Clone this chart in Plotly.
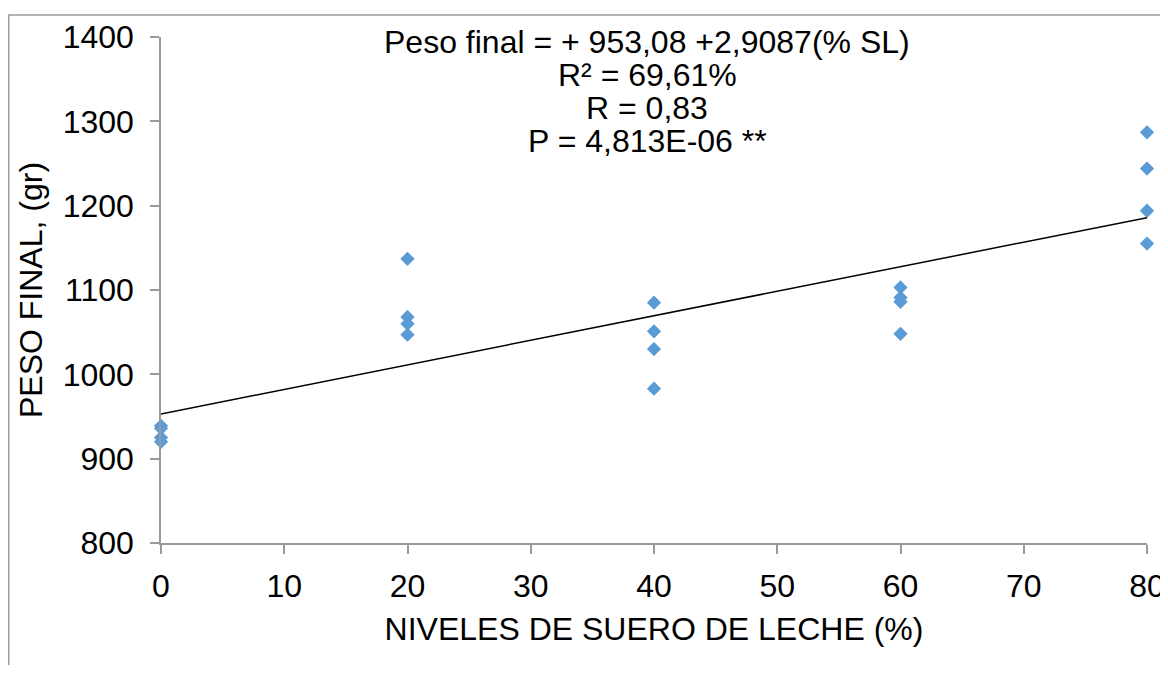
import plotly.graph_objects as go

# Data
x_levels = [0, 0, 0, 0,
            20, 20, 20, 20,
            40, 40, 40, 40,
            60, 60, 60, 60,
            80, 80, 80, 80]
peso_final = [939, 936, 925, 920,
              1137, 1068, 1060, 1047,
              1085, 1051, 1030, 983,
              1103, 1091, 1086, 1048,
              1287, 1244, 1194, 1155]

intercept = 953.08
slope = 2.9087
trend_x = [0, 80]

eq_lines = ["Peso final = + 953,08 +2,9087(% SL)",
            "R² = 69,61%",
            "R = 0,83",
            "P = 4,813E-06 **"]

x_ticks = [0, 10, 20, 30, 40, 50, 60, 70, 80]
y_ticks = [800, 900, 1000, 1100, 1200, 1300, 1400]

FONT = "Liberation Sans, Arial, sans-serif"
AXIS_GRAY = "#9a9a9a"
FS = 32

fig = go.Figure()
fig.add_trace(go.Scatter(
    x=x_levels, y=peso_final, mode="markers",
    marker=dict(symbol="diamond", size=11, color="#5B9BD5", line=dict(width=0)),
    cliponaxis=False, showlegend=False))
fig.add_trace(go.Scatter(
    x=trend_x, y=[intercept + slope * v for v in trend_x], mode="lines",
    line=dict(color="black", width=1.5), cliponaxis=False, showlegend=False))

ann_y = [0.990, 0.925, 0.860, 0.795]
for t, yy in zip(eq_lines, ann_y):
    fig.add_annotation(text=t, x=0.493, y=yy, xref="paper", yref="paper",
                       xanchor="center", yanchor="middle", showarrow=False,
                       font=dict(family=FONT, size=FS, color="black"))

fig.add_shape(type="rect", xref="paper", yref="paper",
              x0=-0.1545, y0=-0.6, x1=1.2, y1=1.0435,
              line=dict(color=AXIS_GRAY, width=1.5), layer="below")

fig.update_layout(
    width=1160, height=657,
    margin=dict(l=153, r=21, t=29, b=122, autoexpand=False),
    paper_bgcolor="white", plot_bgcolor="white",
    font=dict(family=FONT, size=FS, color="black"),
    xaxis=dict(range=[0, 80], tickvals=x_ticks, showgrid=False, zeroline=False,
               showline=True, linecolor=AXIS_GRAY, linewidth=1.5, automargin=False,
               ticks="outside", ticklen=9, tickcolor=AXIS_GRAY, tickwidth=1.5,
               tickfont=dict(size=FS), ticklabelstandoff=5, ticklabeloverflow="allow",
               title=dict(text="NIVELES DE SUERO DE LECHE (%)", font=dict(size=FS), standoff=14)),
    yaxis=dict(range=[800, 1400], tickvals=y_ticks, showgrid=False, zeroline=False,
               showline=True, linecolor=AXIS_GRAY, linewidth=1.5, automargin=False,
               ticks="outside", ticklen=9, tickcolor=AXIS_GRAY, tickwidth=1.5,
               tickfont=dict(size=FS), ticklabelstandoff=10,
               title=dict(text="PESO FINAL, (gr)", font=dict(size=FS), standoff=10)),
)

fig.write_html("out.html", default_width="1160px", default_height="657px")
